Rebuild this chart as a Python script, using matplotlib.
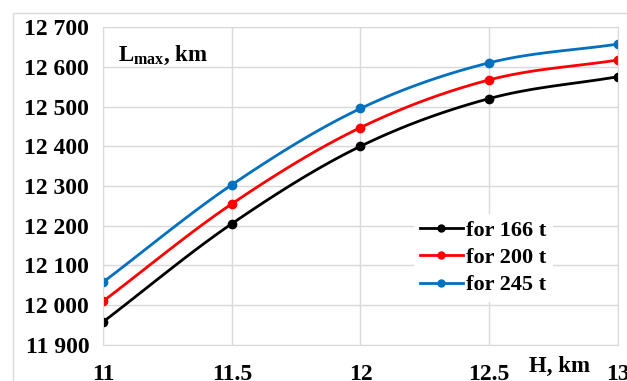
import numpy as np
import matplotlib.pyplot as plt
from matplotlib.patches import Rectangle

plt.rcParams['font.family'] = 'Liberation Serif'
plt.rcParams['font.weight'] = 'bold'
plt.rcParams['mathtext.fontset'] = 'custom'
plt.rcParams['mathtext.rm'] = 'Liberation Serif:bold'
plt.rcParams['mathtext.bf'] = 'Liberation Serif:bold'

H = [11, 11.5, 12, 12.5, 13]
L_166 = [11958, 12205, 12400, 12520, 12575]
L_200 = [12010, 12255, 12447, 12567, 12617]
L_245 = [12058, 12303, 12495, 12610, 12657]
labels = ['for 166 t', 'for 200 t', 'for 245 t']
colors = ['black', '#ff0000', '#0070c0']
yticks = [11900, 12000, 12100, 12200, 12300, 12400, 12500, 12600, 12700]
xticks = [11, 11.5, 12, 12.5, 13]


def smooth(x, y, n=30):
    # catmull-rom style smoothing like excel "smoothed line"
    x = np.asarray(x, float)
    y = np.asarray(y, float)
    px = np.r_[2 * x[0] - x[1], x, 2 * x[-1] - x[-2]]
    py = np.r_[2 * y[0] - y[1], y, 2 * y[-1] - y[-2]]
    xs, ys = [], []
    t = np.linspace(0, 1, n)
    for i in range(1, len(px) - 2):
        for p, out in ((px, xs), (py, ys)):
            p0, p1, p2, p3 = p[i - 1], p[i], p[i + 1], p[i + 2]
            out.extend(0.5 * (2 * p1 + (-p0 + p2) * t
                              + (2 * p0 - 5 * p1 + 4 * p2 - p3) * t ** 2
                              + (-p0 + 3 * p1 - 3 * p2 + p3) * t ** 3))
    return xs, ys


fig = plt.figure(figsize=(6.27, 3.81), dpi=100)
ax = fig.add_axes([0.1643, 0.0945, 0.8213, 0.8346])

for ys, lab, c in zip([L_166, L_200, L_245], labels, colors):
    sx, sy = smooth(H, ys)
    ax.plot(sx, sy, color=c, lw=2.0)
    ax.plot(H, ys, 'o', color=c, ms=6)
    ax.plot([], [], '-o', color=c, lw=2.0, ms=5, label=lab)

ax.set_xlim(11, 13)
ax.set_ylim(11900, 12700)
ax.set_xticks(xticks)
ax.set_xticklabels(['11', '11.5', '12', '12.5', '13'])
ax.set_yticks(yticks)
ax.set_yticklabels([f'{v // 1000}\u00a0{v % 1000:03d}' for v in yticks])
ax.tick_params(length=0, labelsize=17, pad=10)
ax.tick_params(axis='x', pad=14)
ax.grid(color='#d9d9d9', lw=1)
for s in ax.spines.values():
    s.set_color('#d9d9d9')

leg = ax.legend(loc='lower right', bbox_to_anchor=(0.895, 0.10), frameon=True,
                fontsize=16, handlelength=1.9, handletextpad=0.15,
                labelspacing=0.3, borderpad=0.3)
leg.get_frame().set_edgecolor('none')
leg.get_frame().set_facecolor('white')
leg.get_frame().set_alpha(1)

ax.text(0.03, 0.91, r'L$_{\mathrm{max}}$, km', transform=ax.transAxes,
        fontsize=16.5, va='center', ha='left')
fig.text(0.893, 0.037, 'H, km', fontsize=16.5, ha='center', va='center')

fig.patches.append(Rectangle((0.021, -0.1), 1.1, 1.066, transform=fig.transFigure,
                             fill=False, edgecolor='#d9d9d9', lw=1))

fig.savefig('out.png', dpi=100)
